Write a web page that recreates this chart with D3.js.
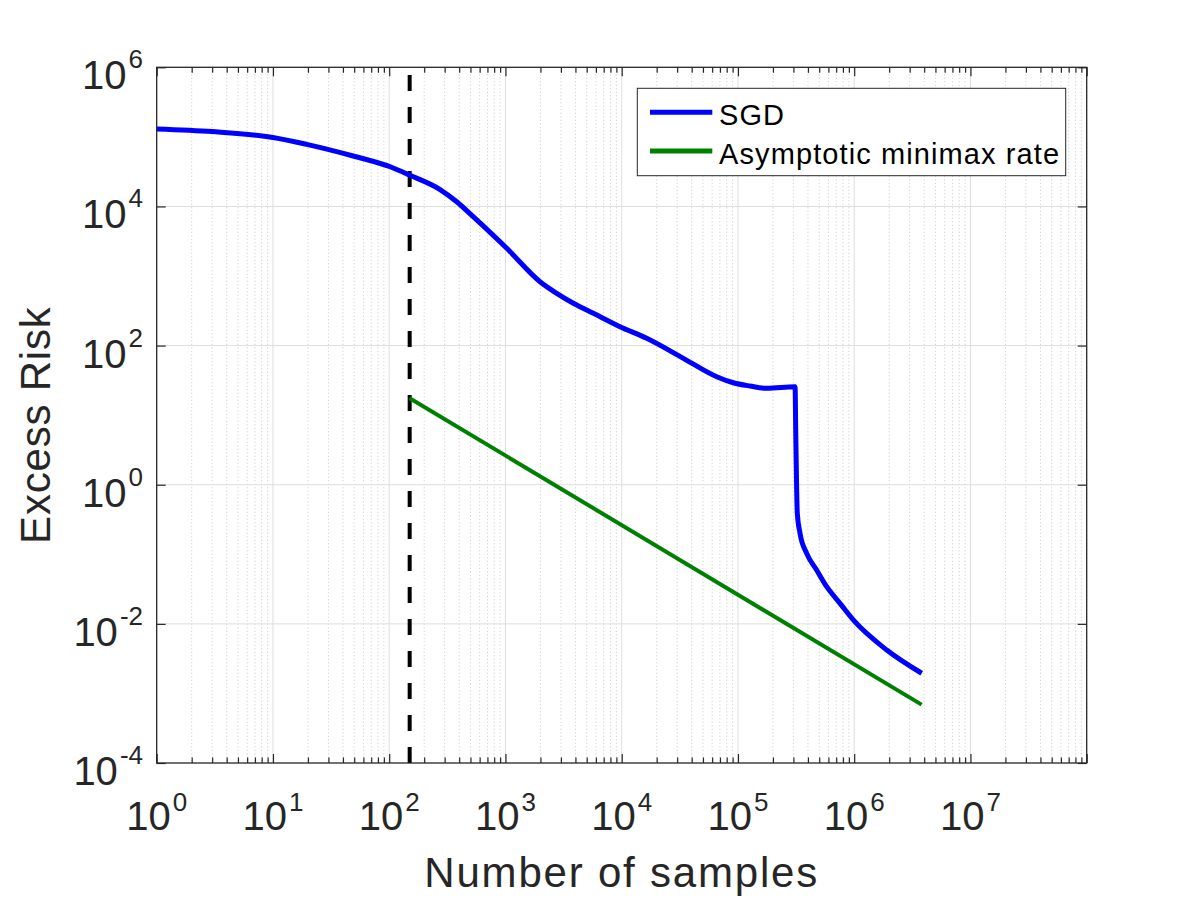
<!DOCTYPE html>
<html><head><meta charset="utf-8">
<script src="https://cdn.jsdelivr.net/npm/d3@7"></script>
<style>body{margin:0;background:#fff} svg{display:block;font-family:"Liberation Sans",Arial,Helvetica,sans-serif}</style>
</head><body><svg id="c" width="1200" height="900"></svg>
<script>
// ---- data ----
const sgdN    = [1, 3, 10, 19.5, 49, 102, 149, 274, 381, 528, 1026, 1982, 2761, 3837, 5702, 9660, 16400, 33900, 65600, 91200, 127000, 177000, 310000, 314000, 320000, 324000, 342000, 390000, 475000, 580000, 755000, 982000, 1905000, 3810000];
const sgdRisk = [1.30e5, 1.19e5, 9.8e4, 7.8e4, 5.31e4, 3.72e4, 2.83e4, 1.75e4, 1.17e4, 7.13e3, 2.50e3, 828, 564, 406, 291, 187, 127, 65.6, 35.7, 29.2, 26.2, 24.3, 25.6, 6.1, 0.84, 0.388, 0.200, 0.103, 0.0594, 0.0342, 0.0197, 0.0114, 0.00421, 0.00195];
const rateN    = [150, 3.8e6];
const rateRisk = [17.5, 6.9e-4];
const thresholdN = 150;
const xTickExp = [0, 1, 2, 3, 4, 5, 6, 7];
const yTickExp = [-4, -2, 0, 2, 4, 6];
const seriesNames  = ["SGD", "Asymptotic minimax rate"];
const seriesColors = ["#0000ff", "#008000"];
const xTitle = "Number of samples";
const yTitle = "Excess Risk";

// ---- layout ----
const L = 156.7, R = 1086.7, T = 67.3, B = 763;
const svg = d3.select("#c");
const x = d3.scaleLog().domain([1, 1e8]).range([L, R]);
const y = d3.scaleLog().domain([1e-4, 1e6]).range([B, T]);

const xMajor = d3.range(0, 9).map(e => Math.pow(10, e));
const xMinor = [];
for (let e = 0; e < 8; e++) for (let m = 2; m <= 9; m++) xMinor.push(m * Math.pow(10, e));
const yMajor = yTickExp.map(e => Math.pow(10, e));

// grid
const grid = svg.append("g");
grid.selectAll("line.xmin").data(xMinor).join("line")
  .attr("x1", d => x(d)).attr("x2", d => x(d)).attr("y1", T).attr("y2", B)
  .attr("stroke", "#c8c8c8").attr("stroke-width", 1).attr("stroke-dasharray", "1,2.5");
grid.selectAll("line.xmaj").data(xMajor.slice(1, 8)).join("line")
  .attr("x1", d => x(d)).attr("x2", d => x(d)).attr("y1", T).attr("y2", B)
  .attr("stroke", "#dedede").attr("stroke-width", 1);
grid.selectAll("line.ymaj").data(yMajor.slice(1, 5)).join("line")
  .attr("x1", L).attr("x2", R).attr("y1", d => y(d)).attr("y2", d => y(d))
  .attr("stroke", "#dedede").attr("stroke-width", 1);

// ticks via d3 axes
function styleAxis(g) {
  g.select(".domain").remove();
  g.selectAll(".tick line").attr("stroke", "#262626").attr("stroke-width", 1.2);
  g.selectAll("text").remove();
}
svg.append("g").attr("transform", `translate(0,${B})`)
  .call(d3.axisBottom(x).tickValues(xMinor).tickSize(-5.5).tickFormat("")).call(styleAxis);
svg.append("g").attr("transform", `translate(0,${B})`)
  .call(d3.axisBottom(x).tickValues(xMajor).tickSize(-9).tickFormat("")).call(styleAxis);
svg.append("g").attr("transform", `translate(0,${T})`)
  .call(d3.axisTop(x).tickValues(xMinor).tickSize(-5.5).tickFormat("")).call(styleAxis);
svg.append("g").attr("transform", `translate(0,${T})`)
  .call(d3.axisTop(x).tickValues(xMajor).tickSize(-9).tickFormat("")).call(styleAxis);
svg.append("g").attr("transform", `translate(${L},0)`)
  .call(d3.axisLeft(y).tickValues(yMajor).tickSize(-9).tickFormat("")).call(styleAxis);
svg.append("g").attr("transform", `translate(${R},0)`)
  .call(d3.axisRight(y).tickValues(yMajor).tickSize(-9).tickFormat("")).call(styleAxis);

// data
const clipId = "plotclip";
svg.append("clipPath").attr("id", clipId).append("rect")
  .attr("x", L).attr("y", T).attr("width", R - L).attr("height", B - T);
const plot = svg.append("g").attr("clip-path", `url(#${clipId})`);

plot.append("line")
  .attr("x1", x(thresholdN)).attr("x2", x(thresholdN))
  .attr("y1", y(1e-4)).attr("y2", y(1e6))
  .attr("stroke", "#000").attr("stroke-width", 4).attr("stroke-dasharray", "16,16");

const sgdData = sgdN.map((n, i) => [n, sgdRisk[i]]);
const rateData = rateN.map((n, i) => [n, rateRisk[i]]);
const line = d3.line().x(d => x(d[0])).y(d => y(d[1])).curve(d3.curveMonotoneX);

plot.append("path").datum(rateData).attr("d", d3.line().x(d => x(d[0])).y(d => y(d[1])))
  .attr("fill", "none").attr("stroke", seriesColors[1]).attr("stroke-width", 4);
plot.append("path").datum(sgdData).attr("d", line)
  .attr("fill", "none").attr("stroke", seriesColors[0]).attr("stroke-width", 5)
  .attr("stroke-linejoin", "round");

// box
svg.append("rect").attr("x", L).attr("y", T).attr("width", R - L).attr("height", B - T)
  .attr("fill", "none").attr("stroke", "#262626").attr("stroke-width", 1.3);

// tick labels
const xl = svg.append("g").attr("fill", "#262626");
xTickExp.forEach(e => {
  const t = xl.append("text").attr("x", x(Math.pow(10, e))).attr("y", 829.5)
    .attr("text-anchor", "middle").attr("font-size", 40);
  t.append("tspan").text("10");
  t.append("tspan").attr("dy", -19).attr("font-size", 26).attr("dx", 2).text(e);
});
const yl = svg.append("g").attr("fill", "#262626");
yTickExp.forEach(e => {
  const t = yl.append("text").attr("x", 143).attr("y", y(Math.pow(10, e)) + 22)
    .attr("text-anchor", "end").attr("font-size", 40);
  t.append("tspan").text("10");
  t.append("tspan").attr("dy", -21).attr("font-size", 26).attr("dx", 2).text(e);
});

// axis titles
svg.append("text").attr("x", (L + R) / 2).attr("y", 886.5).attr("text-anchor", "middle")
  .attr("font-size", 42).attr("letter-spacing", 1.8).attr("fill", "#262626").text(xTitle);
svg.append("text").attr("transform", `translate(49.5,${(T + B) / 2 + 10}) rotate(-90)`)
  .attr("text-anchor", "middle").attr("font-size", 42).attr("letter-spacing", 0.8)
  .attr("fill", "#262626").text(yTitle);

// legend
const lg = svg.append("g");
lg.append("rect").attr("x", 637.3).attr("y", 88.3).attr("width", 1065.7 - 637.3).attr("height", 175.7 - 88.3)
  .attr("fill", "#fff").attr("stroke", "#262626").attr("stroke-width", 1);
const legY = [112.3, 151];
seriesNames.forEach((nm, i) => {
  lg.append("line").attr("x1", 650).attr("x2", 712.3).attr("y1", legY[i]).attr("y2", legY[i])
    .attr("stroke", seriesColors[i]).attr("stroke-width", 5);
  lg.append("text").attr("x", 719).attr("y", legY[i] + 12.5).attr("font-size", 29)
    .attr("letter-spacing", 1.1).attr("fill", "#000").text(nm);
});
</script></body></html>
